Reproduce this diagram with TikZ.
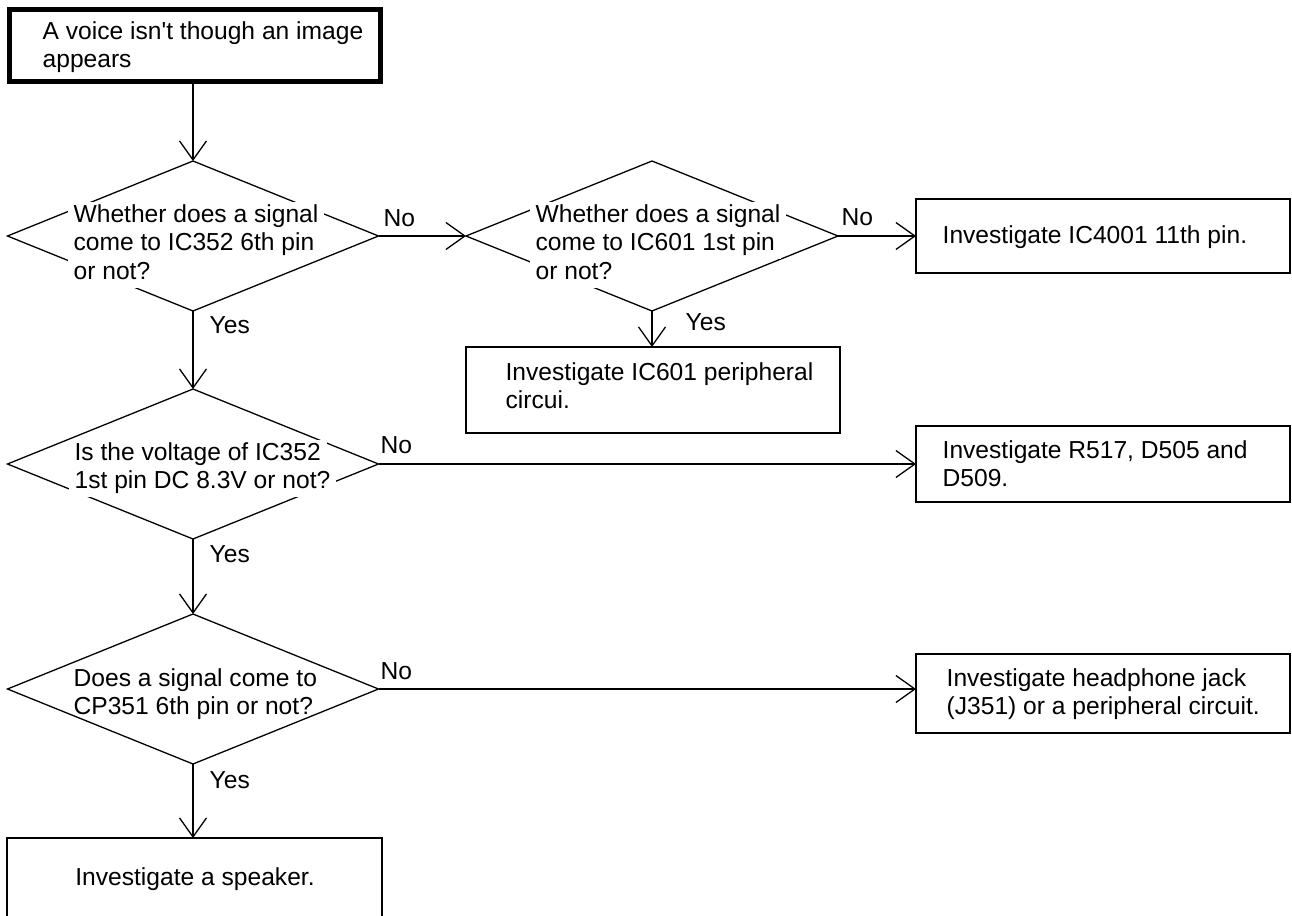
\documentclass[tikz,border=0pt]{standalone}
\usepackage{fontspec}
\usepackage{tikz}
\usetikzlibrary{arrows.meta,shapes.geometric}
\newfontfamily\fcfont{Liberation Sans}
% ligne de texte sur fond blanc (cache le trait du losange)
\newcommand{\fcline}[1]{{\setlength{\fboxsep}{0pt}%
  \colorbox{white}{\hspace{6pt}\strut #1\hspace{6pt}}}}
\tikzset{
  fc_node/.style = {inner sep=0pt, outer sep=0pt, line width=1.3pt},
  fc_box/.style = {fc_node, rectangle, draw=black},% boite d'action
  fc_start/.style = {fc_box, line width=5pt},% boite de depart, trait epais
  fc_dec/.style = {fc_node, diamond, draw=black, minimum width=371pt,
    minimum height=150pt},% losange de decision
  fc_txt/.style = {inner sep=0pt, anchor=base west, align=left,
    font=\fcfont\fontsize{24.6}{28.5}\selectfont}% texte (base = derniere ligne)
}

\begin{document}
\begin{tikzpicture}[x=1pt, y=-1pt, ->, >={Straight Barb[length=19pt,width=27pt]},
  line width=1.3pt]
\path [use as bounding box, clip] (0,0) rectangle (1292,915);
% boites
\node [fc_start, minimum width=371pt, minimum height=72pt] (start) at (195,45.5) {};
\node [fc_box, minimum width=374pt, minimum height=74pt] (ic4001) at (1103,236) {};
\node [fc_box, minimum width=374pt, minimum height=86pt] (ic601) at (653,390) {};
\node [fc_box, minimum width=374pt, minimum height=76pt] (r517) at (1103,464) {};
\node [fc_box, minimum width=374pt, minimum height=79pt] (jack) at (1103,693.5) {};
\node [fc_box, minimum width=375pt, minimum height=100pt] (spk) at (194.5,888) {};
% losanges
\node [fc_dec] (d1) at (193,236) {};
\node [fc_dec, minimum width=372pt] (d2) at (652,236) {};
\node [fc_dec] (d3) at (193,464) {};
\node [fc_dec] (d4) at (193,689) {};
% textes
\node [fc_txt] (tstart) at (42,68) {A voice isn't though an image\\appears};
\node [fc_txt] (t1) at (67,279) {\fcline{Whether does a signal}\\
  \fcline{come to IC352 6th pin}\\\fcline{or not?}};
\node [fc_txt] (t2) at (529,279) {\fcline{Whether does a signal}\\
  \fcline{come to IC601 1st pin}\\\fcline{or not?}};
\node [fc_txt] (t3) at (68,488.5) {\fcline{Is the voltage of IC352}\\
  \fcline{1st pin DC 8.3V or not?}};
\node [fc_txt] (t4) at (73,714.5) {Does a signal come to\\CP351 6th pin or not?};
\node [fc_txt] (tic4001) at (942,243) {Investigate IC4001 11th pin.};
\node [fc_txt] (tic601) at (505,408.5) {Investigate IC601 peripheral\\circui.};
\node [fc_txt] (tr517) at (942,486.5) {Investigate R517, D505 and\\D509.};
\node [fc_txt] (tjack) at (946,714.5) {Investigate headphone jack\\(J351) or a peripheral circuit.};
\node [fc_txt, anchor=base] (tspk) at (195,885) {Investigate a speaker.};
% oui / non
\node [fc_txt] (no1) at (383,226) {No};
\node [fc_txt] (no2) at (841,225) {No};
\node [fc_txt] (no3) at (380,453) {No};
\node [fc_txt] (no4) at (380,679) {No};
\node [fc_txt] (yes1) at (209,333) {Yes};
\node [fc_txt] (yes2) at (685,330) {Yes};
\node [fc_txt] (yes3) at (209,562) {Yes};
\node [fc_txt] (yes4) at (209,788) {Yes};
% fleches
\draw (start.south -| d1.north) -- (d1.north);
\draw (d1.east) -- (d2.west);
\draw (d2.east) -- (ic4001.west);
\draw (d2.south) -- (d2.south |- ic601.north);
\draw (d1.south) -- (d3.north);
\draw (d3.east) -- (d3.east -| r517.west);
\draw (d3.south) -- (d4.north);
\draw (d4.east) -- (d4.east -| jack.west);
\draw (d4.south) -- (d4.south |- spk.north);
\end{tikzpicture}
\end{document}
